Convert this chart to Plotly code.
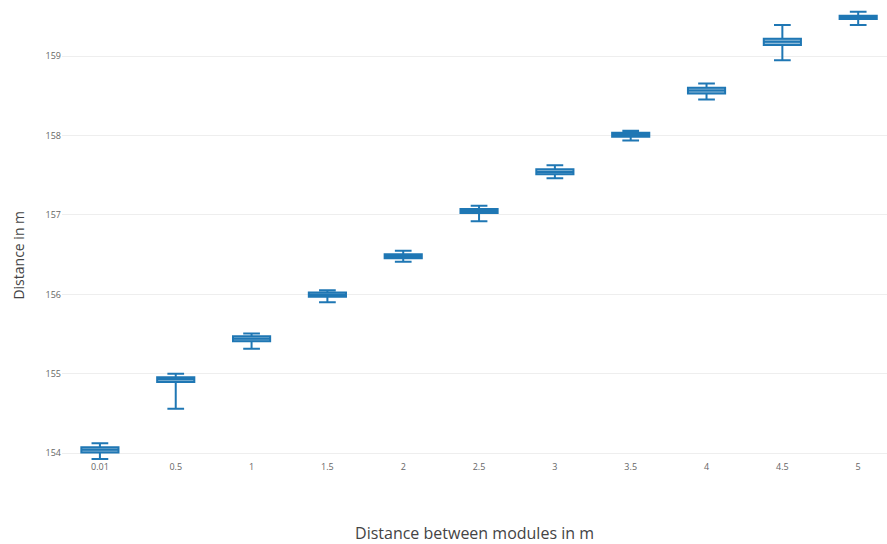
import plotly.graph_objects as go

# Spacing between modules (category labels on the x axis)
spacing = ["0.01", "0.5", "1", "1.5", "2", "2.5", "3", "3.5", "4", "4.5", "5"]

# Box statistics of the measured distance (m) for each spacing
lower_fence = [153.927, 154.560, 155.316, 155.900, 156.410, 156.920, 157.460, 157.937, 158.453, 158.946, 159.390]
q1 = [154.008, 154.896, 155.411, 155.969, 156.455, 157.025, 157.511, 157.984, 158.528, 159.138, 159.465]
median = [154.045, 154.930, 155.440, 155.995, 156.480, 157.050, 157.540, 158.010, 158.565, 159.180, 159.490]
q3 = [154.075, 154.958, 155.474, 156.023, 156.505, 157.075, 157.574, 158.034, 158.600, 159.218, 159.507]
upper_fence = [154.126, 155.000, 155.508, 156.052, 156.550, 157.116, 157.624, 158.059, 158.654, 159.390, 159.557]

y_ticks = [154, 155, 156, 157, 158, 159]

fig = go.Figure(
    go.Box(
        x=spacing,
        q1=q1,
        median=median,
        q3=q3,
        lowerfence=lower_fence,
        upperfence=upper_fence,
        marker_color="#1f77b4",
        line_width=2,
        whiskerwidth=0.45,
        showlegend=False,
    )
)

fig.update_layout(
    width=887,
    height=544,
    margin=dict(l=62, r=0, t=0, b=84),
    paper_bgcolor="white",
    plot_bgcolor="white",
    font=dict(family="Open Sans", color="#444"),
    boxgap=0.3,
    xaxis=dict(
        type="category",
        range=[-0.5, 10.38],
        showgrid=False,
        zeroline=False,
        tickfont=dict(size=9, color="#666"),
        title=dict(text="Distance between modules in m", standoff=55,
                   font=dict(size=16, color="#444")),
    ),
    yaxis=dict(
        range=[153.915, 159.705],
        tickvals=y_ticks,
        showgrid=True,
        gridcolor="#eeeeee",
        zeroline=False,
        tickfont=dict(size=9, color="#666"),
    ),
    # y-axis title, placed a little below the middle of the plot area
    annotations=[
        dict(
            text="Distance in m",
            textangle=-90,
            xref="paper", yref="paper",
            x=-0.053, y=0.445,
            xanchor="center", yanchor="middle",
            showarrow=False,
            font=dict(size=14, color="#444"),
        )
    ],
)

fig.write_html("out.html")
